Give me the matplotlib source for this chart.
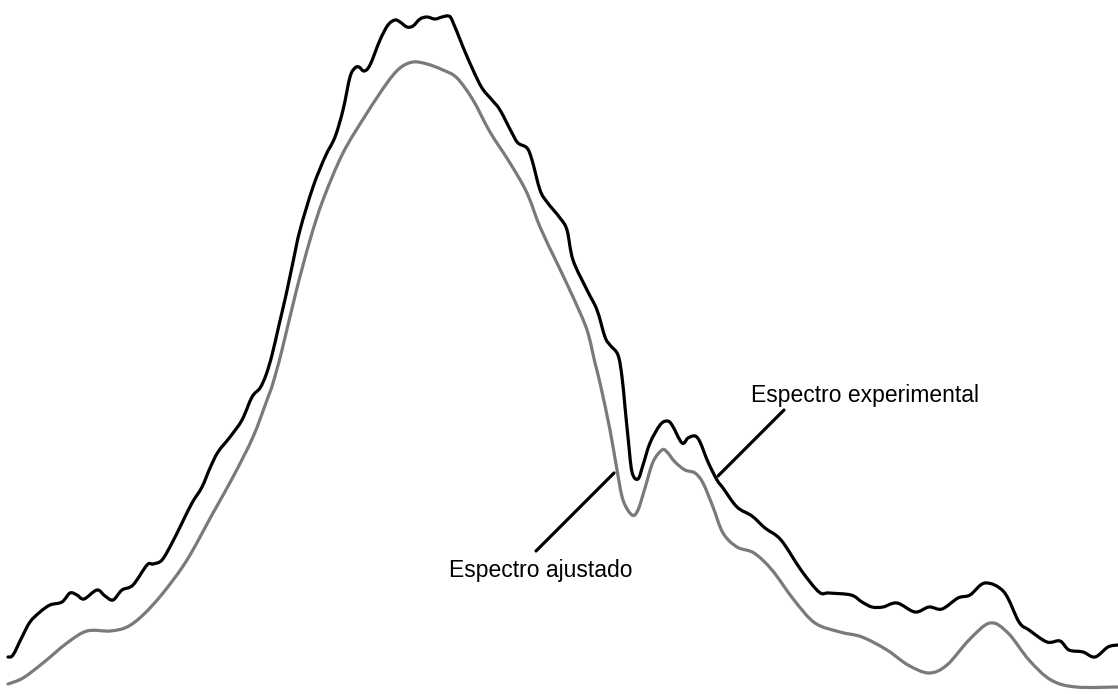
import matplotlib
matplotlib.use("Agg")
import matplotlib.pyplot as plt
from matplotlib.path import Path
from matplotlib.patches import PathPatch
import numpy as np

# values (x = channel, y = pixel depth, top = 0)
exp_x = [8, 13, 22, 30, 40, 50, 62, 70, 77, 84, 97, 105, 113, 122, 133, 147, 153, 162,
         172, 182, 192, 202, 210, 218, 230, 242, 252, 260, 266, 272, 279, 286, 293, 300,
         313, 325, 335, 343, 350, 355, 359, 364, 370, 380, 388, 395, 400, 407, 413, 420,
         427, 435, 442, 448, 452, 463, 473, 482, 492, 500, 512, 518, 527, 532, 540, 547,
         560, 567, 573, 587, 597, 605, 610, 618, 622, 625, 628, 632, 638, 643, 650, 660,
         667, 672, 682, 688, 695, 700, 708, 717, 723, 737, 752, 765, 781, 801, 819, 829,
         851, 862, 872, 883, 897, 915, 929, 942, 958, 970, 985, 1004, 1019, 1029, 1047,
         1060, 1069, 1083, 1095, 1108, 1118]
exp_y = [657, 655, 637, 622, 612, 605, 602, 593, 595, 599, 590, 596, 600, 590, 585, 565, 564, 560,
         543, 523, 503, 487, 468, 452, 437, 420, 397, 388, 375, 355, 325, 295, 262, 230,
         187, 157, 137, 110, 77, 68, 67, 71, 65, 40, 25, 20, 22, 27, 26, 19,
         17, 19, 17, 16, 20, 47, 70, 88, 100, 110, 133, 143, 148, 160, 190, 202,
         218, 230, 260, 290, 310, 337, 345, 355, 377, 407, 437, 472, 479, 465, 443, 425,
         421, 425, 443, 438, 436, 442, 462, 480, 488, 507, 516, 528, 540, 570, 592, 593,
         595, 602, 607, 607, 603, 612, 607, 609, 598, 595, 583, 592, 622, 630, 642,
         641, 650, 652, 657, 647, 645]

fit_x = [8, 23, 43, 67, 87, 110, 127, 143, 163, 187, 213, 233, 253, 267, 273, 282, 296, 310,
         323, 343, 367, 387, 400, 413, 427, 443, 457, 473, 490, 510, 527, 540, 557, 573,
         587, 595, 600, 610, 617, 623, 632, 638, 645, 653, 662, 667, 675, 685, 695, 703,
         713, 723, 737, 754, 772, 794, 815, 840, 862, 887, 908, 929, 947, 969, 990, 1008,
         1029, 1051, 1076, 1118]
fit_y = [684, 678, 663, 643, 631, 631, 627, 615, 593, 560, 513, 477, 437, 400, 383, 350, 292, 240,
         200, 153, 113, 83, 68, 62, 64, 70, 78, 100, 132, 163, 193, 227, 263, 297,
         330, 363, 383, 430, 470, 500, 515, 510, 488, 462, 450, 452, 462, 470, 473, 483,
         507, 533, 547, 553, 570, 600, 623, 632, 637, 650, 665, 673, 665, 640, 623, 633,
         660, 680, 687, 687]

labels = ["Espectro experimental", "Espectro ajustado"]


def smooth_path(xs, ys):
    # Catmull-Rom through the points, drawn as cubic Bezier segments
    p = np.column_stack([xs, ys]).astype(float)
    p = np.vstack([p[0], p, p[-1]])
    verts = [p[1]]
    codes = [Path.MOVETO]
    for i in range(1, len(p) - 2):
        c1 = p[i] + (p[i + 1] - p[i - 1]) / 6
        c2 = p[i + 1] - (p[i + 2] - p[i]) / 6
        verts += [c1, c2, p[i + 1]]
        codes += [Path.CURVE4] * 3
    return Path(verts, codes)


fig = plt.figure(figsize=(11.18, 6.94), dpi=100)
ax = fig.add_axes([0, 0, 1, 1])

ax.add_patch(PathPatch(smooth_path(fit_x, fit_y), fill=False, edgecolor="#7a7a7a",
                       lw=2.3, joinstyle="round", capstyle="round"))
ax.add_patch(PathPatch(smooth_path(exp_x, exp_y), fill=False, edgecolor="black",
                       lw=2.3, joinstyle="round", capstyle="round"))

# leader lines + labels
ax.annotate("", xy=(718, 476), xytext=(784, 410),
            arrowprops=dict(arrowstyle="-", lw=2.3, color="black", shrinkA=0, shrinkB=0))
ax.annotate("", xy=(614, 473), xytext=(536, 551),
            arrowprops=dict(arrowstyle="-", lw=2.3, color="black", shrinkA=0, shrinkB=0))
ax.text(751, 402, labels[0], fontsize=16.5, family="Liberation Sans", va="baseline", ha="left")
ax.text(449, 577, labels[1], fontsize=16.5, family="Liberation Sans", va="baseline", ha="left")

ax.set_xlim(0, 1118)
ax.set_ylim(694, 0)
ax.axis("off")

fig.savefig("out.png", dpi=100, facecolor="white")
